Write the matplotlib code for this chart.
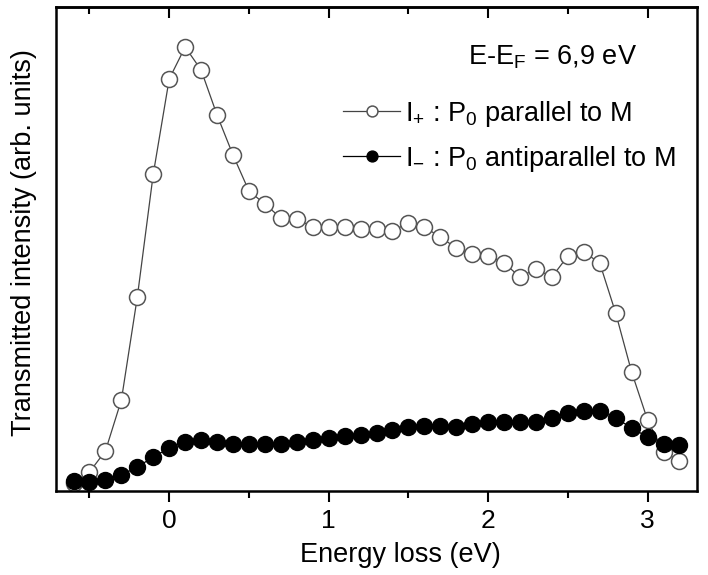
import numpy as np
import matplotlib
matplotlib.use('Agg')
import matplotlib.pyplot as plt
from matplotlib.ticker import MultipleLocator

plt.rcParams['font.family'] = ['Liberation Sans', 'DejaVu Sans']
plt.rcParams['mathtext.fontset'] = 'custom'
plt.rcParams['mathtext.rm'] = 'Liberation Sans'
plt.rcParams['mathtext.it'] = 'Liberation Sans:italic'

# energy loss grid (eV)
energy = [-0.6, -0.5, -0.4, -0.3, -0.2, -0.1, 0.0, 0.1, 0.2, 0.3,
          0.4, 0.5, 0.6, 0.7, 0.8, 0.9, 1.0, 1.1, 1.2, 1.3,
          1.4, 1.5, 1.6, 1.7, 1.8, 1.9, 2.0, 2.1, 2.2, 2.3,
          2.4, 2.5, 2.6, 2.7, 2.8, 2.9, 3.0, 3.1, 3.2]

# I+ : P0 parallel to M (arb. units)
i_plus = [8, 19, 40, 91, 194, 317, 412, 444, 421, 376,
          336, 300, 287, 273, 272, 264, 264, 264, 262, 262,
          260, 268, 264, 254, 243, 237, 235, 228, 214, 222,
          214, 235, 239, 228, 178, 119, 71, 39, 30]

# I- : P0 antiparallel to M (arb. units)
i_minus = [10, 9, 11, 16, 24, 34, 43, 49, 51, 49,
           47, 47, 47, 47, 49, 51, 53, 55, 56, 58,
           61, 64, 65, 65, 64, 67, 69, 69, 69, 69,
           73, 78, 80, 80, 73, 63, 54, 47, 46]

fig = plt.figure(figsize=(7.08, 5.75), dpi=100)
ax = fig.add_axes([56/708, 84/575, 641/708, 484/575])

ax.plot(energy, i_plus, '-o', color='#444444', lw=0.9, ms=11.5,
        mfc='white', mec='#555555', mew=1.1,
        label=r'I$_{\mathrm{+}}$ : P$_{\mathrm{0}}$ parallel to M')
ax.plot(energy, i_minus, '-o', color='black', lw=0.9, ms=11.5,
        mfc='black', mec='black',
        label=r'I$_{\mathrm{-}}$ : P$_{\mathrm{0}}$ antiparallel to M')

ax.set_xlim(-0.71, 3.31)
ax.set_ylim(0, 484)
ax.set_yticks([])
ax.xaxis.set_major_locator(MultipleLocator(1))
ax.xaxis.set_minor_locator(MultipleLocator(0.5))
ax.tick_params(axis='x', which='major', direction='out', length=8, width=1.5,
               labelsize=19, pad=5)
ax.tick_params(axis='x', which='minor', direction='out', length=5, width=1.5)
for s in ax.spines.values():
    s.set_linewidth(1.8)

top = ax.secondary_xaxis('top')
top.xaxis.set_major_locator(MultipleLocator(1))
top.xaxis.set_minor_locator(MultipleLocator(0.5))
top.tick_params(axis='x', which='major', direction='in', length=8, width=1.5,
                labeltop=False)
top.tick_params(axis='x', which='minor', direction='in', length=5, width=1.5)
top.spines['top'].set_linewidth(1.8)

ax.set_xlabel('Energy loss (eV)', fontsize=19.5)
ax.xaxis.set_label_coords(0.537, -0.105)
ax.set_ylabel('Transmitted intensity (arb. units)', fontsize=19.5)
ax.yaxis.set_label_coords(-0.029, 0.513)

ax.text(0.643, 0.897, r'E-E$_{\mathrm{F}}$ = 6,9 eV', transform=ax.transAxes,
        fontsize=19.5, va='center', ha='left')

leg = ax.legend(loc='center left', bbox_to_anchor=(0.448, 0.733), frameon=False,
                fontsize=19.5, markerscale=0.68, handlelength=2.1,
                handletextpad=0.2, labelspacing=0.55, borderpad=0,
                borderaxespad=0)

fig.savefig('out.png', dpi=100)
